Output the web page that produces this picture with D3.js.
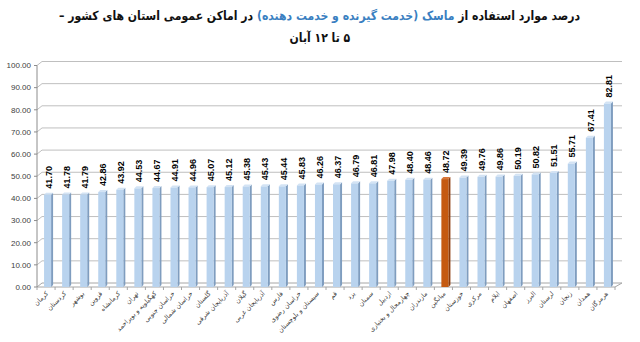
<!DOCTYPE html>
<html>
<head>
<meta charset="utf-8">
<script src="https://cdn.jsdelivr.net/npm/d3@7"></script>
<style>
    body { margin: 0; background: #fff; }
    #chart { position: relative; width: 640px; height: 342px; overflow: hidden; }
    .title { position: absolute; left: 0; width: 640px; text-align: center; direction: rtl;
        font-family: 'DejaVu Sans', sans-serif; font-weight: bold; font-size: 12.5px; color: #111; white-space: nowrap; }
    .title span.inner { display: inline-block; transform: scaleX(0.87); }
    .title .hl { color: #3a7fc1; }
</style>
</head>
<body>
<div id="chart"></div>
<script>
// provinces, in the order they appear left to right
var provinces = ['کرمان', 'کردستان', 'بوشهر', 'قزوین', 'کرمانشاه', 'تهران', 'کهگیلویه و بویراحمد',
    'خراسان جنوبی', 'خراسان شمالی', 'گلستان', 'آذربایجان شرقی', 'گیلان', 'آذربایجان غربی', 'فارس',
    'خراسان رضوی', 'سیستان و بلوچستان', 'قم', 'یزد', 'سمنان', 'اردبیل', 'چهارمحال و بختیاری',
    'مازندران', 'میانگین', 'خوزستان', 'مرکزی', 'ایلام', 'اصفهان', 'البرز', 'لرستان', 'زنجان',
    'همدان', 'هرمزگان']

var percents = [41.70, 41.78, 41.79, 42.86, 43.92, 44.53, 44.67, 44.91, 44.96, 45.07, 45.12,
    45.38, 45.43, 45.44, 45.83, 46.26, 46.37, 46.79, 46.81, 47.98, 48.40, 48.46, 48.72, 49.39,
    49.76, 49.86, 50.19, 50.82, 51.51, 55.71, 67.41, 82.81]

var yTicks = [0, 10, 20, 30, 40, 50, 60, 70, 80, 90, 100]

var averageName = 'میانگین'

var data = provinces.map(function(p, i) {
    return { name: p, value: percents[i] }
})

var width = 640
var height = 342
var depthX = 5, depthY = 4   // back wall offset (fake 3d)
var left = 37, right = 615

var chart = d3.select('#chart')

chart.append('div').attr('class', 'title').style('top', '8px')
    .html('<span class="inner">درصد موارد استفاده از <span class="hl">ماسک (خدمت گیرنده و خدمت دهنده)</span> در اماکن عمومی استان های کشور –</span>')
chart.append('div').attr('class', 'title').style('top', '30px')
    .html('<span class="inner">۵ تا ۱۲ آبان</span>')

var svg = chart.append('svg')
    .attr('width', width)
    .attr('height', height)

var x = d3.scaleBand()
    .domain(provinces)
    .range([39, 618])
    .paddingInner(0.5)
    .paddingOuter(0.28)

var y = d3.scaleLinear()
    .domain([0, 100])
    .range([287, 65.5])

var grid = svg.append('g').attr('class', 'grid')

// back wall gridlines with the little diagonal from the axis
yTicks.forEach(function(t) {
    grid.append('path')
        .attr('d', 'M' + left + ',' + y(t) + 'L' + (left + depthX) + ',' + (y(t) - depthY) +
            'L' + (right + depthX + 2) + ',' + (y(t) - depthY))
        .attr('fill', 'none')
        .attr('stroke', t === 0 ? '#a6a6a6' : '#bfbfbf')
        .attr('stroke-width', 1)
})

// floor front edge + right diagonal
grid.append('path')
    .attr('d', 'M' + left + ',' + y(0) + 'L' + right + ',' + y(0) + 'L' + (right + depthX + 2) + ',' + (y(0) - depthY))
    .attr('fill', 'none')
    .attr('stroke', '#a6a6a6')

// y axis
var yAxis = svg.append('g').attr('class', 'y-axis')
yAxis.append('line')
    .attr('x1', left).attr('x2', left)
    .attr('y1', y(0)).attr('y2', y(100))
    .attr('stroke', '#8c8c8c')

yAxis.selectAll('.tick')
    .data(yTicks)
    .enter().append('g')
    .attr('class', 'tick')
    .attr('transform', function(d) { return 'translate(0,' + y(d) + ')' })
    .each(function(d) {
        var g = d3.select(this)
        g.append('line').attr('x1', left - 3).attr('x2', left).attr('stroke', '#8c8c8c')
        g.append('text')
            .attr('x', 31)
            .attr('dy', '0.35em')
            .attr('text-anchor', 'end')
            .style('font-family', 'Liberation Sans, Arial, sans-serif')
            .style('font-size', '8px')
            .attr('fill', '#404040')
            .text(d3.format('.2f')(d))
    })

// x ticks between categories
svg.append('g').selectAll('line')
    .data(d3.range(provinces.length + 1))
    .enter().append('line')
    .attr('x1', function(i) { return left + i * (right - left) / provinces.length })
    .attr('x2', function(i) { return left + i * (right - left) / provinces.length })
    .attr('y1', y(0)).attr('y2', y(0) + 3)
    .attr('stroke', '#a6a6a6')

var frontW = x.bandwidth() - 2
var side = 2

var bars = svg.append('g').attr('class', 'bars')
    .selectAll('g')
    .data(data)
    .enter().append('g')

bars.append('path')   // side face
    .attr('d', function(d) {
        var x0 = x(d.name) + frontW, yt = y(d.value), yb = y(0)
        return 'M' + x0 + ',' + yt + 'L' + (x0 + side) + ',' + (yt - side) + 'L' + (x0 + side) + ',' + (yb - side) + 'L' + x0 + ',' + yb + 'Z'
    })
    .attr('fill', function(d) { return d.name === averageName ? '#8a3a0a' : '#7f9dbf' })

bars.append('path')   // top face
    .attr('d', function(d) {
        var x0 = x(d.name), yt = y(d.value)
        return 'M' + x0 + ',' + yt + 'L' + (x0 + side) + ',' + (yt - side) + 'L' + (x0 + frontW + side) + ',' + (yt - side) + 'L' + (x0 + frontW) + ',' + yt + 'Z'
    })
    .attr('fill', function(d) { return d.name === averageName ? '#d9773a' : '#d3e3f4' })

bars.append('rect')   // front face
    .attr('x', function(d) { return x(d.name) })
    .attr('y', function(d) { return y(d.value) })
    .attr('width', frontW)
    .attr('height', function(d) { return y(0) - y(d.value) })
    .attr('fill', function(d) { return d.name === averageName ? '#c55a11' : '#b9d3ee' })

// value labels
bars.append('text')
    .attr('transform', function(d) {
        return 'translate(' + (x(d.name) + frontW / 2 + 1) + ',' + (y(d.value) - 6) + ') rotate(-90)'
    })
    .attr('dy', '0.35em')
    .style('font-family', 'Liberation Sans, Arial, sans-serif')
    .style('font-size', '9px')
    .style('font-weight', 'bold')
    .attr('fill', '#000')
    .text(function(d) { return d3.format('.2f')(d.value) })

// category labels
svg.append('g').attr('class', 'x-labels')
    .selectAll('text')
    .data(provinces)
    .enter().append('text')
    .attr('transform', function(d) {
        return 'translate(' + (x(d) + x.bandwidth() / 2) + ',' + (y(0) + 7) + ') rotate(-45)'
    })
    .attr('text-anchor', 'end')
    .style('font-family', 'DejaVu Sans, sans-serif')
    .style('font-size', '6.5px')
    .attr('fill', '#404040')
    .text(function(d) { return d })
</script>
</body>
</html>
